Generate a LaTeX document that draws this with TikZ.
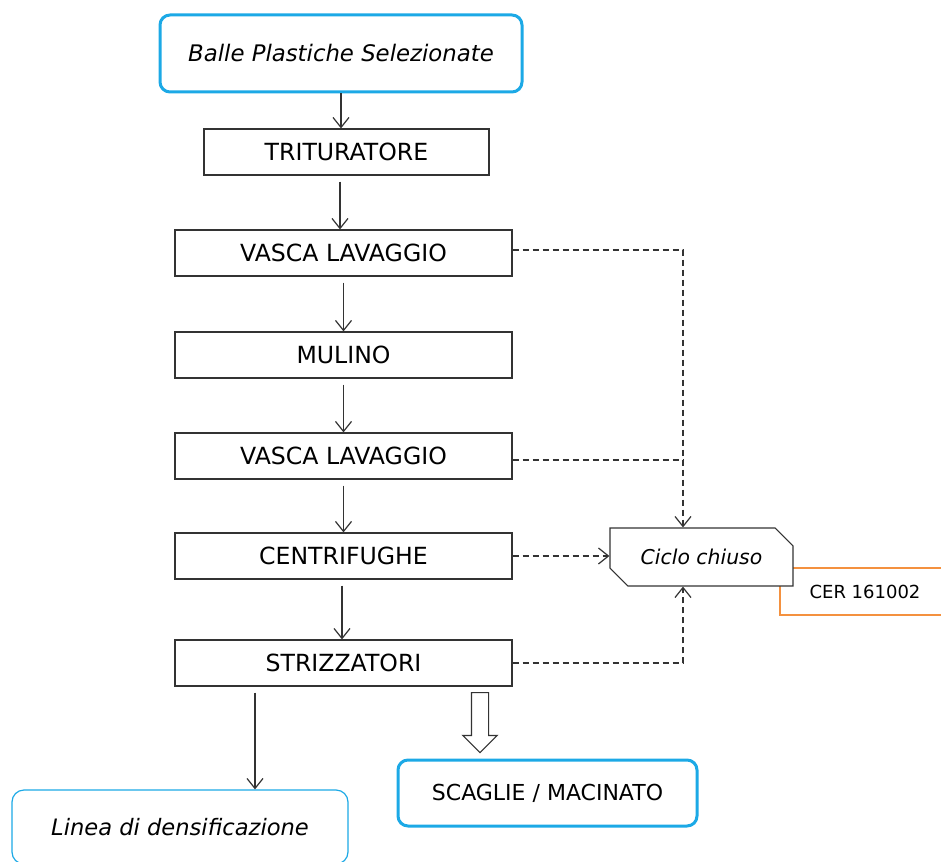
\documentclass[tikz,border=0pt]{standalone}
\usepackage{fontspec}
\setmainfont{DejaVu Sans}
\usetikzlibrary{positioning, arrows.meta, shapes.misc, shapes.arrows}
\definecolor{boxline}{HTML}{333333}
\definecolor{cyanline}{HTML}{1CA9E6}
\definecolor{orangeline}{HTML}{F4913F}
\tikzset{
  stepbox/.style={
    draw=boxline,
    line width=0.6pt,
    rectangle,
    minimum width=168.5pt,
    minimum height=23pt,
    inner sep=0pt,
    font=\fontsize{11.8}{13}\selectfont
  },
  endbox/.style={
    draw=cyanline,
    line width=1.5pt,
    rectangle,
    rounded corners=5pt,
    inner sep=0pt,
    fill=white
  },
  flow/.style={
    draw=boxline,
    line width=0.6pt,
    shorten <=3pt,
    -{Straight Barb[length=5pt,width=8pt]}
  },
  waste/.style={
    draw=boxline,
    line width=0.6pt,
    dash pattern=on 3pt off 2pt,
    -{Straight Barb[length=5pt,width=8pt]}
  }
}

\begin{document}
\begin{tikzpicture}[x=0.5pt, y=-0.5pt]
    \path[use as bounding box, clip] (0,0) rectangle (941,861);
    \node[endbox, minimum width=181pt, minimum height=38.5pt, font=\fontsize{11.4}{13}\selectfont\itshape] (balle) at (341,53.5) {Balle Plastiche Selezionate};
    \node[stepbox, minimum width=142.5pt] (trit) at (346.5,152) {TRITURATORE};
    \node[stepbox] (vasca1) at (343.5,253) {VASCA LAVAGGIO};
    \node[stepbox, below=27.4pt of vasca1] (mulino) {MULINO};
    \node[stepbox, below=26.9pt of mulino] (vasca2) {VASCA LAVAGGIO};
    \node[stepbox, below=26.4pt of vasca2] (centri) {CENTRIFUGHE};
    \node[stepbox, below=29.9pt of centri] (strizz) {STRIZZATORI};

    % scarico acque
    \draw[orangeline, line width=1.2pt] (780,568) rectangle (960,615);
    \node[draw=boxline, line width=0.6pt, fill=white, chamfered rectangle, chamfered rectangle corners={north east, south west}, chamfered rectangle xsep=5pt, chamfered rectangle ysep=5pt, minimum width=91.5pt, minimum height=29pt, inner sep=0pt, font=\fontsize{10.2}{12}\selectfont\itshape] (ciclo) at (701.5,557) {Ciclo chiuso};
    \node[font=\fontsize{9}{11}\selectfont, anchor=center] (cer) at (865,592) {CER 161002};

    \node[endbox, line width=0.6pt, rounded corners=6pt, minimum width=168pt, minimum height=37pt, font=\fontsize{11.3}{13}\selectfont\itshape] (linea) at (180,827) {Linea di densificazione};
    \node[endbox, minimum width=149.5pt, minimum height=33pt, font=\fontsize{11}{13}\selectfont] (scaglie) at (547.5,793) {SCAGLIE / MACINATO};

    \draw[flow, shorten <=0pt] (balle.south -| 341,0) -- (trit.north -| 341,0);
    \draw[flow] (trit.south -| 340,0) -- (vasca1.north -| 340,0);
    \draw[flow] (vasca1) -- (mulino);
    \draw[flow] (mulino) -- (vasca2);
    \draw[flow] (vasca2) -- (centri);
    \draw[flow] (centri.south -| 342,0) -- (strizz.north -| 342,0);
    \draw[flow] (strizz.south -| 255,0) -- (linea.north -| 255,0);

    \coordinate (drop) at ([xshift=-9.25pt]ciclo.north);
    \coordinate (rise) at ([xshift=-9.25pt]ciclo.south);
    \draw[waste] ([yshift=1.5pt]vasca1.east) -| (drop);
    \draw[waste, -] ([yshift=-2pt]vasca2.east) -- ([yshift=-2pt]vasca2.east -| drop);
    \draw[waste] (centri.east) -- (centri.east -| ciclo.west);
    \draw[waste] (strizz.east) -| (rise);

    \node[single arrow, draw=boxline, line width=0.6pt, fill=white, rotate=-90, anchor=tail, inner sep=4pt, minimum height=30pt, single arrow head extend=4.25pt, single arrow tip angle=90] (pass) at (480,692) {};
\end{tikzpicture}
\end{document}
